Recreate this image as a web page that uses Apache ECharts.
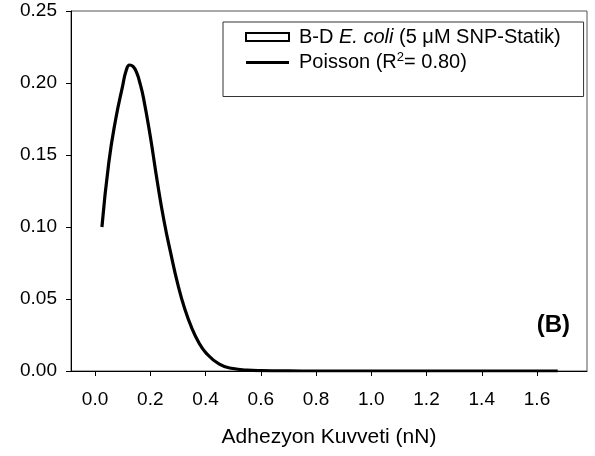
<!DOCTYPE html>
<html>
<head>
<meta charset="utf-8">
<script src="https://cdn.jsdelivr.net/npm/echarts@6/dist/echarts.min.js"></script>
<style>
html,body{margin:0;padding:0;background:#fff;}
#chart{width:595px;height:456px;}
</style>
</head>
<body>
<div id="chart"></div>
<script>
// Poisson fit curve
var forceX = [0.025, 0.05, 0.075, 0.10, 0.1125, 0.125, 0.1375, 0.15, 0.1625, 0.175, 0.20, 0.225, 0.25, 0.275, 0.30, 0.325, 0.35, 0.375, 0.40, 0.45, 0.50, 0.55, 0.60, 0.70, 0.80, 0.90, 1.00, 1.10, 1.20, 1.30, 1.40, 1.50, 1.60, 1.675];
var density = [0.100, 0.145, 0.175, 0.198, 0.2085, 0.2125, 0.2115, 0.2075, 0.200, 0.190, 0.163, 0.132, 0.104, 0.081, 0.060, 0.043, 0.030, 0.020, 0.013, 0.0047, 0.0017, 0.0006, 0.0002, 0.00002, 0, 0, 0, 0, 0, 0, 0, 0, 0, 0];
// histogram bars (none visible in the picture)
var barValues = [];
var xTicks = [0.0, 0.2, 0.4, 0.6, 0.8, 1.0, 1.2, 1.4, 1.6];
var yTicks = [0.00, 0.05, 0.10, 0.15, 0.20, 0.25];
var seriesNames = ['B-D E. coli (5 \u03bcM SNP-Statik)', 'Poisson (R\u00b2= 0.80)'];

var FONT = '"Liberation Sans", Arial, sans-serif';
var linePts = forceX.map(function (x, i) { return [x, density[i]]; });

var chart = echarts.init(document.getElementById('chart'), null, {renderer: 'canvas'});
chart.setOption({
  animation: false,
  backgroundColor: '#ffffff',
  grid: {
    left: 71, right: 8, top: 11, bottom: 85,
    show: true, borderColor: '#555555', borderWidth: 1, backgroundColor: 'transparent'
  },
  legend: {
    orient: 'vertical',
    left: 223, top: 22,
    padding: [5, 23, 24, 22],
    borderColor: '#333333', borderWidth: 1,
    itemWidth: 43, itemHeight: 8,
    itemGap: 4,
    data: [
      {name: seriesNames[0], icon: 'rect'},
      {name: seriesNames[1], icon: 'path://M0,0H40V3H0Z'}
    ],
    formatter: function (name) {
      if (name === seriesNames[0]) {
        return '{a|B-D }{i|E. coli}{a| (5 \u03bcM SNP-Statik)}';
      }
      return '{a|Poisson (R}{s|2}{a|= 0.80)}';
    },
    textStyle: {
      fontFamily: FONT, fontSize: 20, color: '#000',
      padding: [0, 0, 0, 5],
      rich: {
        a: {fontFamily: FONT, fontSize: 20, color: '#000'},
        i: {fontFamily: FONT, fontSize: 20, fontStyle: 'italic', color: '#000'},
        s: {fontFamily: FONT, fontSize: 13, color: '#000', padding: [0, 0, 10, 0]}
      }
    }
  },
  xAxis: {
    type: 'value',
    min: -0.087, max: 1.781,
    name: 'Adhezyon Kuvveti (nN)',
    nameLocation: 'middle',
    nameGap: 56,
    nameTextStyle: {fontFamily: FONT, fontSize: 21, color: '#000'},
    splitLine: {show: false},
    axisLine: {show: true, onZero: false, lineStyle: {color: '#000', width: 1}},
    axisTick: {show: true, inside: false, length: 5, customValues: xTicks, lineStyle: {color: '#000'}},
    axisLabel: {
      customValues: xTicks, margin: 19,
      fontFamily: FONT, fontSize: 19, color: '#000',
      formatter: function (v) { return v.toFixed(1); }
    }
  },
  yAxis: {
    type: 'value',
    min: 0, max: 0.25, interval: 0.05,
    splitLine: {show: false},
    axisLine: {show: true, onZero: false, lineStyle: {color: '#000', width: 1}},
    axisTick: {show: true, inside: false, length: 5, lineStyle: {color: '#000'}},
    axisLabel: {
      margin: 14,
      fontFamily: FONT, fontSize: 19, color: '#000',
      formatter: function (v) { return v.toFixed(2); }
    }
  },
  graphic: [{
    type: 'text', right: 25, top: 313,
    style: {text: '(B)', fontFamily: FONT, fontSize: 24, fontWeight: 'bold', fill: '#000'}
  }],
  series: [
    {
      name: seriesNames[0], type: 'bar', data: barValues,
      itemStyle: {color: '#ffffff', borderColor: '#000', borderWidth: 1}
    },
    {
      name: seriesNames[1], type: 'line', data: linePts,
      symbol: 'none', smooth: 0.5,
      lineStyle: {color: '#000', width: 3.2},
      itemStyle: {color: '#000'}
    }
  ]
});
</script>
</body>
</html>
